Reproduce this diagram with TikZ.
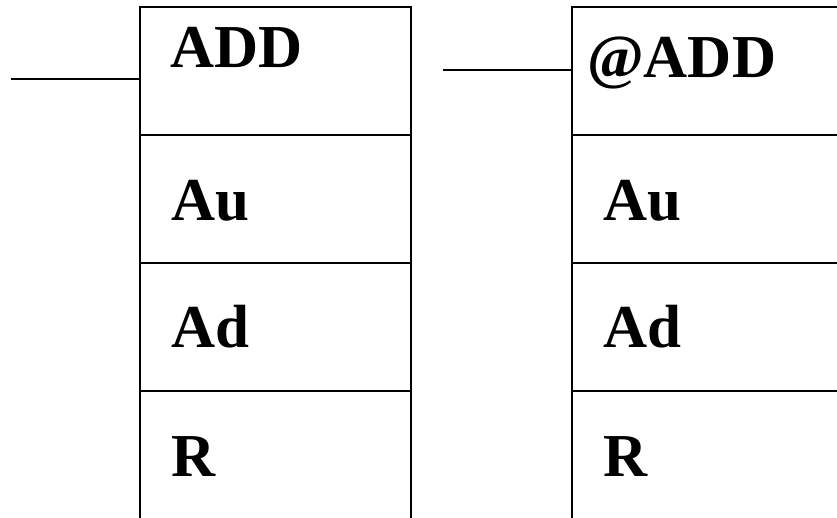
\documentclass[tikz,border=0pt]{standalone}
\usepackage{fontspec}
\setmainfont{Liberation Serif}
\begin{document}
\begin{tikzpicture}[x=1pt,y=-1pt,
  cell/.style={draw=black,line width=2pt,rectangle,inner sep=0pt,anchor=north west,minimum width=#1,minimum height=128pt},
  lbl/.style={anchor=base west,inner sep=0pt,font=\fontsize{61}{61}\selectfont\bfseries},
  wire/.style={line width=2pt}]
\useasboundingbox (0,0) rectangle (837,517);
% left block
\node[cell=271pt] (l1) at (139,6) {};
\node[cell=271pt] (l2) at (139,134) {};
\node[cell=271pt] (l3) at (139,262) {};
\node[cell=271pt] (l4) at (139,390) {};
% right block
\node[cell=300pt] (r1) at (571,6) {};
\node[cell=300pt] (r2) at (571,134) {};
\node[cell=300pt] (r3) at (571,262) {};
\node[cell=300pt] (r4) at (571,390) {};
% labels
\node[lbl] (t1) at (170,67) {ADD};
\node[lbl] (t2) at (171,220) {Au};
\node[lbl] (t3) at (171,347) {Ad};
\node[lbl] (t4) at (171,476) {R};
\node[lbl] (u1) at (587,77) {@ADD};
\node[lbl] (u2) at (603,220) {Au};
\node[lbl] (u3) at (603,347) {Ad};
\node[lbl] (u4) at (603,476) {R};
% input wires
\coordinate (lin) at (11,79);
\coordinate (rin) at (443,70);
\draw[wire] (lin) -- (lin -| l1.west);
\draw[wire] (rin) -- (rin -| r1.west);
\end{tikzpicture}
\end{document}
